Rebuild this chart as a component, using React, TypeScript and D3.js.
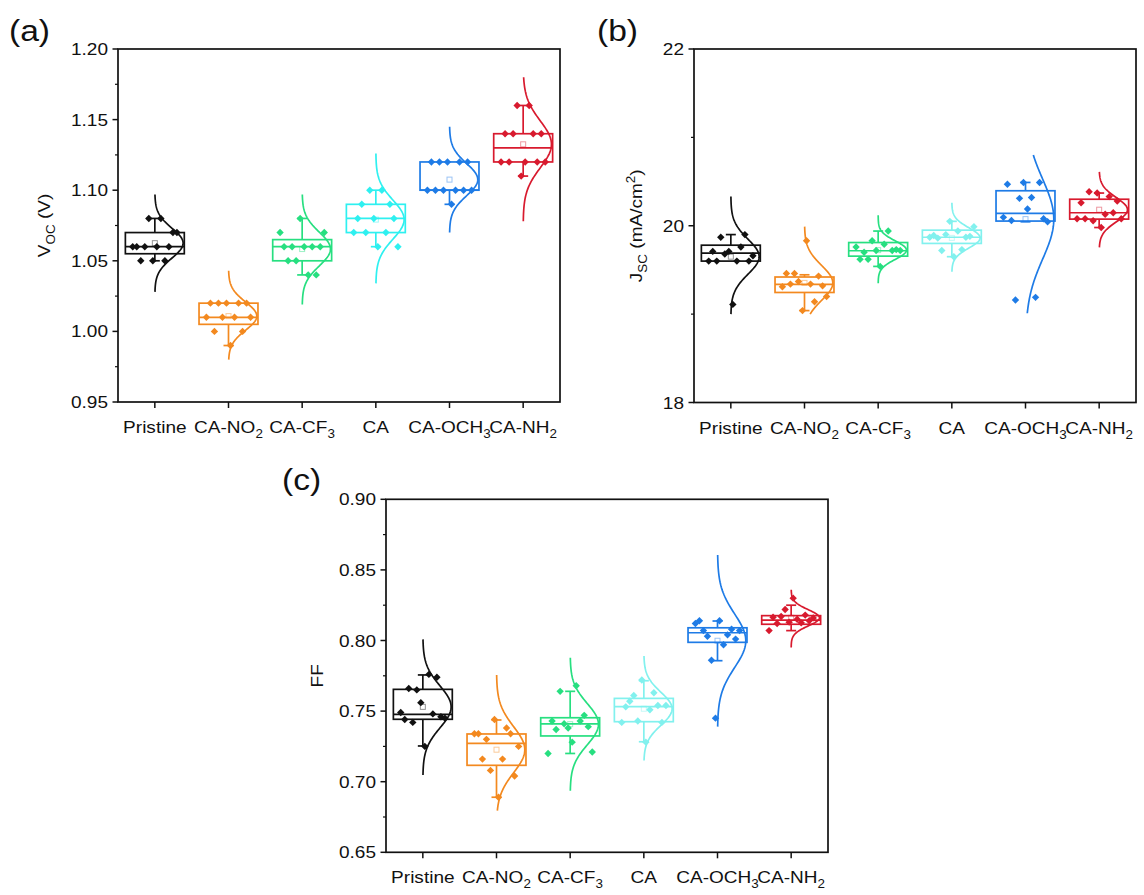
import React from 'react';
import * as d3 from 'd3';

// categories on every x axis
const categories = ['Pristine', 'CA-NO2', 'CA-CF3', 'CA', 'CA-OCH3', 'CA-NH2'];

// ---- (a) Voc, points listed in the order they sit left to right ----
const vocPristine = [1.06, 1.06, 1.05, 1.06, 1.08, 1.05, 1.06, 1.08, 1.05, 1.06, 1.07, 1.07];
const vocNO2 = [1.01, 1.02, 1.0, 1.02, 1.01, 1.02, 0.99, 1.01, 1.02, 1.0, 1.02, 1.01];
const vocCF3 = [1.07, 1.06, 1.05, 1.06, 1.05, 1.08, 1.06, 1.04, 1.06, 1.04, 1.06, 1.07];
const vocCA = [1.07, 1.08, 1.09, 1.07, 1.1, 1.08, 1.06, 1.1, 1.07, 1.09, 1.08, 1.06];
const vocOCH3 = [1.1, 1.12, 1.1, 1.12, 1.1, 1.12, 1.09, 1.1, 1.12, 1.1, 1.12, 1.1];
const vocNH2 = [1.12, 1.14, 1.12, 1.14, 1.16, 1.11, 1.12, 1.16, 1.14, 1.12, 1.14, 1.12];
// box: [q1, median, q3, whisker low, whisker high]
const vocBoxes = [
  [1.055, 1.06, 1.07, 1.05, 1.08],
  [1.005, 1.01, 1.02, 0.99, 1.02],
  [1.05, 1.06, 1.065, 1.04, 1.08],
  [1.07, 1.08, 1.09, 1.06, 1.1],
  [1.1, 1.1, 1.12, 1.09, 1.12],
  [1.12, 1.13, 1.14, 1.11, 1.16],
];
// range over which the normal curve is drawn
const vocCurves = [
  [1.028, 1.097], [0.98, 1.043], [1.019, 1.097], [1.034, 1.126], [1.07, 1.145], [1.078, 1.18],
];
const vocTicks = [0.95, 1.0, 1.05, 1.1, 1.15, 1.2];
const vocMinor = [0.975, 1.025, 1.075, 1.125, 1.175];

// ---- (b) Jsc ----
const jscPristine = [19.6, 19.71, 19.6, 19.87, 19.68, 19.71, 19.11, 19.6, 19.76, 19.9, 19.6, 19.66];
const jscNO2 = [19.31, 19.46, 19.34, 19.46, 19.37, 19.04, 19.83, 19.34, 19.14, 19.43, 19.32, 19.2];
const jscCF3 = [19.76, 19.62, 19.7, 19.62, 19.83, 19.72, 19.54, 19.79, 19.94, 19.72, 19.73, 19.72];
const jscCA = [19.87, 19.89, 19.86, 19.72, 19.9, 20.05, 19.65, 19.94, 19.73, 19.87, 19.88, 19.99];
const jscOCH3 = [20.095, 20.47, 20.06, 19.16, 20.31, 20.49, 20.19, 20.32, 19.19, 20.49, 20.08, 20.045];
const jscNH2 = [20.08, 20.26, 20.08, 20.385, 20.056, 20.37, 19.98, 20.13, 20.33, 20.147, 20.28, 20.08];
const jscBoxes = [
  [19.6, 19.69, 19.78, 19.6, 19.9],
  [19.245, 19.336, 19.42, 19.04, 19.445],
  [19.656, 19.717, 19.81, 19.54, 19.94],
  [19.8, 19.87, 19.95, 19.65, 20.05],
  [20.053, 20.14, 20.396, 20.045, 20.49],
  [20.075, 20.147, 20.3, 19.98, 20.37],
];
const jscCurves = [
  [19.0, 20.33], [19.0, 19.99], [19.35, 20.12], [19.48, 20.26], [19.01, 20.8], [19.755, 20.61],
];
const jscTicks = [18, 20, 22];
const jscMinor = [19, 21];

// ---- (c) FF ----
const ffPristine = [0.749, 0.744, 0.766, 0.742, 0.765, 0.756, 0.725, 0.776, 0.748, 0.774, 0.746, 0.745];
const ffNO2 = [0.734, 0.734, 0.716, 0.73, 0.708, 0.744, 0.689, 0.716, 0.738, 0.734, 0.704, 0.725];
const ffCF3 = [0.72, 0.743, 0.737, 0.764, 0.741, 0.738, 0.728, 0.768, 0.743, 0.747, 0.739, 0.721];
const ffCA = [0.742, 0.753, 0.757, 0.761, 0.743, 0.772, 0.728, 0.751, 0.763, 0.754, 0.742, 0.754];
const ffOCH3 = [0.812, 0.814, 0.807, 0.803, 0.786, 0.745, 0.814, 0.797, 0.804, 0.808, 0.801, 0.807];
const ffNH2 = [0.807, 0.8165, 0.812, 0.817, 0.822, 0.813, 0.83, 0.815, 0.8125, 0.818, 0.814, 0.816];
const ffBoxes = [
  [0.7442, 0.7477, 0.7654, 0.7253, 0.7756],
  [0.7116, 0.7272, 0.7338, 0.689, 0.7437],
  [0.7324, 0.7409, 0.7453, 0.72, 0.764],
  [0.7425, 0.7531, 0.759, 0.7283, 0.7715],
  [0.7987, 0.8055, 0.809, 0.7857, 0.8138],
  [0.8115, 0.8145, 0.8176, 0.807, 0.825],
];
const ffCurves = [
  [0.7047, 0.8008], [0.6795, 0.7756], [0.6936, 0.7878], [0.715, 0.789], [0.739, 0.8605], [0.795, 0.836],
];
const ffTicks = [0.65, 0.7, 0.75, 0.8, 0.85, 0.9];
const ffMinor = [0.675, 0.725, 0.775, 0.825, 0.875];

const colorsA = ['#111111', '#f3891f', '#27df80', '#2ef0f0', '#1e7be6', '#d81a2e'];
const colorsBC = ['#111111', '#f3891f', '#27df80', '#82f1ee', '#1e7be6', '#d81a2e'];

const FONT = "'Liberation Sans', Arial, sans-serif";
const SX = 1.12; // the reference text is a little wide

function Txt({ x, y, anchor = 'middle', size = 17, rotate = 0, baseline, children }: any) {
  const tr = `translate(${x},${y})${rotate ? ` rotate(${rotate})` : ''} scale(${SX},1)`;
  return (
    <text transform={tr} textAnchor={anchor} fontSize={size} fontFamily={FONT} fill="#111" dominantBaseline={baseline}>
      {children}
    </text>
  );
}

function CatName({ name }: { name: string }) {
  const m = name.match(/^(.*?)(\d)$/);
  if (!m) return <>{name}</>;
  return (
    <>
      {m[1]}
      <tspan fontSize={12} dy={5}>{m[2]}</tspan>
    </>
  );
}

function Panel(p: any) {
  const x = d3.scaleBand<string>().domain(categories).range([p.left, p.left + p.width]);
  const y = d3.scaleLinear().domain(p.domain).range([p.top + p.height, p.top]);
  const bottom = p.top + p.height;
  const bw = x.bandwidth();
  const boxW = bw * 0.8;
  const spread = bw * 0.6;
  const peakW = (boxW / 2) * 0.96;
  const diamond = 'M0,-3.7L3.7,0L0,3.7L-3.7,0Z';

  return (
    <g>
      {categories.map((c, i) => {
        const cx = x(c)! + bw / 2;
        const col = p.colors[i];
        const [q1, med, q3, lo, hi] = p.boxes[i];
        const vals: number[] = p.groups[i];
        const mean = d3.mean(vals)!;
        const sd = d3.deviation(vals)!;
        const [c0, c1] = p.curves[i];
        const samples = d3.range(101).map((k) => c0 + ((c1 - c0) * k) / 100);
        const curve = d3
          .line<number>()
          .x((v) => cx + peakW * Math.exp(-0.5 * ((v - mean) / sd) ** 2))
          .y((v) => y(v))(samples);
        const px = d3.scaleLinear().domain([0, vals.length - 1]).range([cx - spread / 2, cx + spread / 2]);
        const capW = 10;
        return (
          <g key={c} stroke={col} strokeWidth={1.7} fill="none">
            {y(q3) - y(hi) > 0.5 && (
              <g>
                <line x1={cx} x2={cx} y1={y(q3)} y2={y(hi)} />
                <line x1={cx - capW / 2} x2={cx + capW / 2} y1={y(hi)} y2={y(hi)} />
              </g>
            )}
            {y(lo) - y(q1) > 0.5 && (
              <g>
                <line x1={cx} x2={cx} y1={y(q1)} y2={y(lo)} />
                <line x1={cx - capW / 2} x2={cx + capW / 2} y1={y(lo)} y2={y(lo)} />
              </g>
            )}
            <rect x={cx - boxW / 2} y={y(q3)} width={boxW} height={y(q1) - y(q3)} />
            <line x1={cx - boxW / 2} x2={cx + boxW / 2} y1={y(med)} y2={y(med)} />
            <path d={curve!} />
            <rect x={cx - 2.5} y={y(mean) - 2.5} width={5} height={5} strokeWidth={1} strokeOpacity={0.45} />
            {vals.map((v, k) => (
              <path key={k} d={diamond} transform={`translate(${px(k)},${y(v)})`} fill={col} stroke="none" />
            ))}
          </g>
        );
      })}

      {/* frame */}
      <rect x={p.left} y={p.top} width={p.width} height={p.height} fill="none" stroke="#111" strokeWidth={1.7} />

      {/* y ticks */}
      {p.ticks.map((t: number) => (
        <g key={t}>
          <line x1={p.left - 5.5} x2={p.left} y1={y(t)} y2={y(t)} stroke="#111" strokeWidth={1.5} />
          <Txt x={p.left - 10} y={y(t) + 6} anchor="end">{p.fmt(t)}</Txt>
        </g>
      ))}
      {p.minor.map((t: number) => (
        <line key={t} x1={p.left - 3} x2={p.left} y1={y(t)} y2={y(t)} stroke="#111" strokeWidth={1.2} />
      ))}

      {/* x ticks and category names */}
      {categories.map((c) => {
        const cx = x(c)! + bw / 2;
        return (
          <g key={c}>
            <line x1={cx} x2={cx} y1={bottom} y2={bottom + 6} stroke="#111" strokeWidth={1.5} />
            <Txt x={cx} y={bottom + 31}>
              <CatName name={c} />
            </Txt>
          </g>
        );
      })}

      {/* y title */}
      <Txt x={p.titleX} y={p.top + p.height / 2} rotate={-90}>{p.title}</Txt>

      {/* panel tag */}
      <Txt x={p.tagX} y={p.tagY} anchor="start" size={30}>{p.tag}</Txt>
    </g>
  );
}

export default function App() {
  return (
    <svg width={1144} height={895} style={{ position: 'absolute', left: 0, top: 0, background: '#ffffff' }}>
      <Panel
        left={118} top={49} width={442} height={353}
        domain={[0.95, 1.2]} ticks={vocTicks} minor={vocMinor} fmt={d3.format('.2f')}
        groups={[vocPristine, vocNO2, vocCF3, vocCA, vocOCH3, vocNH2]}
        boxes={vocBoxes} curves={vocCurves} colors={colorsA}
        tag="(a)" tagX={9} tagY={41} titleX={50}
        title={<>V<tspan fontSize={12} dy={5}>OC</tspan><tspan dy={-5}> (V)</tspan></>}
      />
      <Panel
        left={694} top={49} width={442} height={353.5}
        domain={[18, 22]} ticks={jscTicks} minor={jscMinor} fmt={d3.format('d')}
        groups={[jscPristine, jscNO2, jscCF3, jscCA, jscOCH3, jscNH2]}
        boxes={jscBoxes} curves={jscCurves} colors={colorsBC}
        tag="(b)" tagX={597} tagY={41} titleX={642}
        title={<>J<tspan fontSize={12} dy={5}>SC</tspan><tspan dy={-5}> (mA/cm</tspan><tspan fontSize={12} dy={-7}>2</tspan><tspan dy={7}>)</tspan></>}
      />
      <Panel
        left={386} top={499.3} width={442} height={353}
        domain={[0.65, 0.9]} ticks={ffTicks} minor={ffMinor} fmt={d3.format('.2f')}
        groups={[ffPristine, ffNO2, ffCF3, ffCA, ffOCH3, ffNH2]}
        boxes={ffBoxes} curves={ffCurves} colors={colorsBC}
        tag="(c)" tagX={282} tagY={490} titleX={323}
        title="FF"
      />
    </svg>
  );
}
